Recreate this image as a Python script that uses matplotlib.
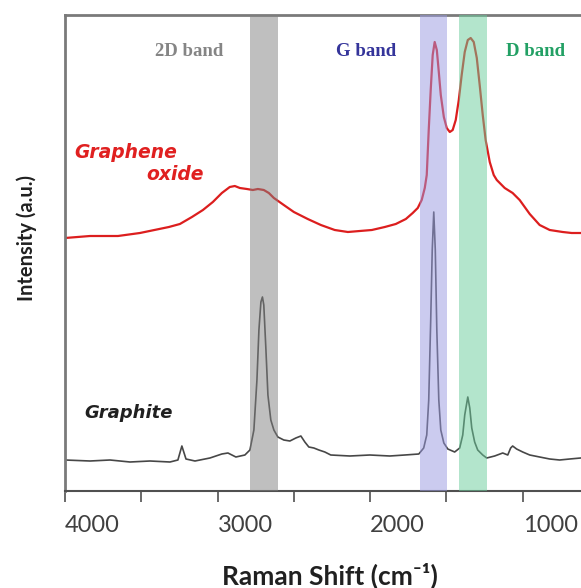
import matplotlib
matplotlib.use("Agg")
import matplotlib.pyplot as plt

# Raman spectra (wavenumber in cm-1, intensity in a.u.)
graphite_wn = [4000, 3836, 3705, 3574, 3443, 3312, 3260, 3234, 3207, 3148, 3050, 2972,
               2932, 2880, 2821, 2788, 2762, 2742, 2729, 2716, 2706, 2697, 2683, 2670,
               2651, 2631, 2605, 2566, 2526, 2487, 2454, 2428, 2402, 2369, 2336, 2297,
               2258, 2133, 2002, 1871, 1773, 1681, 1649, 1629, 1616, 1603, 1593, 1583,
               1573, 1563, 1550, 1537, 1517, 1491, 1446, 1413, 1393, 1380, 1360, 1347,
               1334, 1315, 1295, 1262, 1236, 1184, 1131, 1098, 1079, 1066, 1040, 1000,
               954, 889, 823, 758, 692, 620]
graphite_int = [31, 30, 31, 29, 30, 29, 31, 45, 32, 30, 33, 37,
                38, 34, 36, 41, 61, 111, 161, 189, 194, 186, 141, 96,
                71, 61, 54, 51, 50, 53, 55, 49, 44, 43, 41, 39,
                36, 35, 36, 35, 36, 37, 43, 56, 91, 171, 241, 279,
                241, 161, 91, 61, 48, 42, 39, 43, 56, 76, 94, 83,
                63, 49, 41, 36, 33, 35, 38, 36, 43, 45, 42, 39,
                36, 34, 32, 31, 32, 33]

go_wn = [4000, 3836, 3653, 3509, 3319, 3247, 3168, 3096, 3031, 2972, 2920, 2887,
         2854, 2808, 2769, 2736, 2697, 2664, 2631, 2566, 2500, 2409, 2323, 2232,
         2146, 2068, 1989, 1904, 1832, 1766, 1721, 1688, 1662, 1642, 1629, 1616,
         1603, 1590, 1577, 1563, 1550, 1537, 1517, 1498, 1478, 1459, 1439, 1419,
         1400, 1380, 1360, 1341, 1321, 1301, 1282, 1262, 1243, 1216, 1190, 1170,
         1118, 1066, 1020, 954, 889, 823, 738, 679, 620]
go_int = [253, 255, 255, 258, 264, 267, 274, 281, 289, 298, 304, 305,
          303, 302, 301, 302, 301, 298, 293, 286, 279, 272, 266, 261,
          259, 260, 261, 264, 267, 272, 278, 283, 291, 303, 316, 361,
          401, 436, 449, 441, 419, 396, 374, 363, 359, 361, 371, 391,
          416, 439, 451, 453, 449, 433, 406, 376, 351, 329, 316, 311,
          303, 298, 291, 277, 266, 261, 259, 258, 258]

band_names = ["2D band", "G band", "D band"]
band_lo = [2605, 1498, 1236]
band_hi = [2788, 1675, 1419]
band_fill = ["#818181", "#9999e1", "#69cd9b"]
band_text = ["#858585", "#34349a", "#22a064"]
band_label_x = [3188, 2028, 915]

fig = plt.figure(figsize=(5.81, 5.88), dpi=100)
ax = fig.add_axes([65 / 581, 97 / 588, 534 / 581, 476 / 588])

ax.plot(go_wn, go_int, color="#dc1e1e", lw=1.6, zorder=2)
ax.plot(graphite_wn, graphite_int, color="#474747", lw=1.2, zorder=2)

# bands sit on top of the spectra, half transparent
for lo, hi, c in zip(band_lo, band_hi, band_fill):
    ax.axvspan(lo, hi, color=c, alpha=0.5, lw=0, zorder=3)

for name, x, c in zip(band_names, band_label_x, band_text):
    ax.text(x, 439, name, color=c, fontsize=13.5, fontweight="bold",
            family="Liberation Serif", ha="center", va="center")

ax.text(3941, 339, "Graphene", color="#e02020", fontsize=13.5, fontweight="bold",
        style="italic", ha="left", va="center")
ax.text(3090, 316, "oxide", color="#e02020", fontsize=13.5, fontweight="bold",
        style="italic", ha="right", va="center")
ax.text(3581, 78, "Graphite", color="#202020", fontsize=13, fontweight="bold",
        style="italic", ha="center", va="center")

ax.set_xlim(4000, 500)
ax.set_ylim(0, 476)
ax.set_yticks([])
ax.set_xticks([4000, 3000, 2000, 1000])
ax.set_xticks([3500, 2500, 1500, 500], minor=True)
ax.set_xticklabels(["4000", "3000", "2000", "1000"], ha="left",
                   family="Lato", fontsize=17, color="#404040")
ax.tick_params(axis="x", which="both", direction="out", length=8, width=1.2,
               color="#505050", pad=9)

for side in ["top", "left", "right"]:
    ax.spines[side].set_color("#7a7a7a")
    ax.spines[side].set_linewidth(2)
ax.spines["bottom"].set_color("#505050")
ax.spines["bottom"].set_linewidth(1.5)

fig.text(27 / 581, 1 - 238 / 588, "Intensity (a.u.)", rotation=90, ha="center",
         va="center", family=["Lato", "DejaVu Sans"], fontweight="bold",
         fontsize=14.5, color="#202020")
fig.text(330 / 581, 1 - 576 / 588, "Raman Shift (cm\u207b\u00b9)", ha="center",
         va="center", family=["Lato", "DejaVu Sans"], fontweight="bold",
         fontsize=19, color="#202020")

fig.savefig("out.png", dpi=100)
